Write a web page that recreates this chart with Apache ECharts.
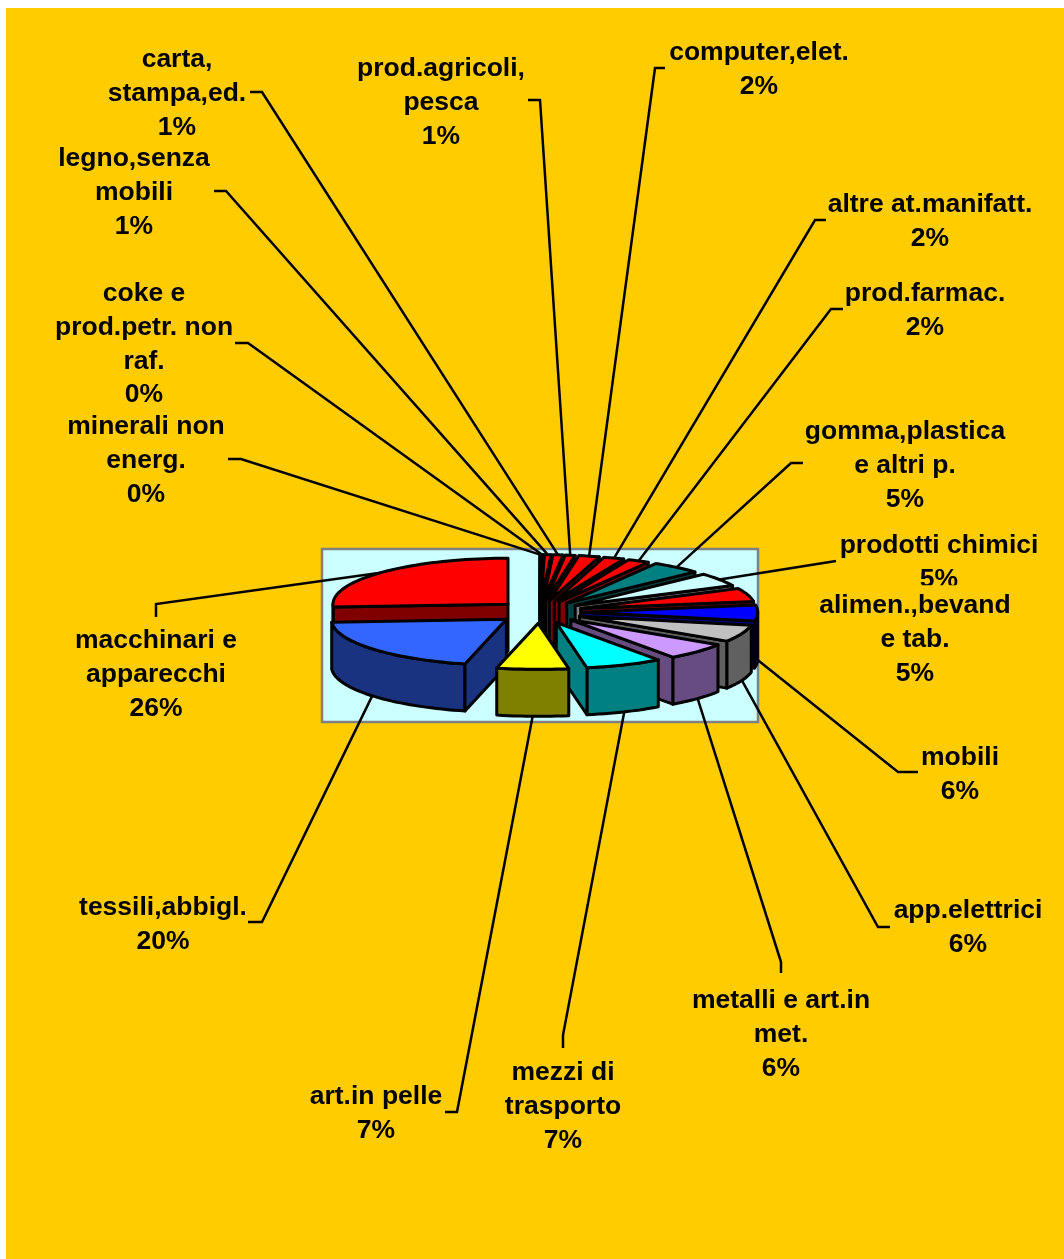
<!DOCTYPE html>
<html><head><meta charset="utf-8">
<style>html,body{margin:0;padding:0;background:#fff}#c{width:1064px;height:1259px}</style>
<script src="https://cdn.jsdelivr.net/npm/echarts@6/dist/echarts.min.js"></script>
</head><body><div id="c"></div>
<script>
const categories = ['minerali non\nenerg.','coke e\nprod.petr. non\nraf.','legno,senza\nmobili','carta,\nstampa,ed.','prod.agricoli,\npesca','computer,elet.','altre at.manifatt.','prod.farmac.','gomma,plastica\ne altri p.','prodotti chimici','alimen.,bevand\ne tab.','mobili','app.elettrici','metalli e art.in\nmet.','mezzi di\ntrasporto','art.in pelle','tessili,abbigl.','macchinari e\napparecchi'];
const values = [0.1,0.2,0.6,0.9,0.9,1.9,1.9,2.0,4.6,4.7,4.7,5.6,6.0,6.0,7.1,6.6,20.2,26.0];
const topColors = ['#FF0000','#FF0000','#FF0000','#FF0000','#FF0000','#FF0000','#FF0000','#FF0000','#008080','#CCFFFF','#FF0000','#0000FF','#C0C0C0','#CC99FF','#00FFFF','#FFFF00','#3366FF','#FF0000'];
const sideColors = ['#800000','#800000','#800000','#800000','#800000','#800000','#800000','#800000','#004040','#808080','#800000','#000080','#606060','#664C80','#008080','#808000','#193380','#800000'];
// layout
const labelCenters = [[146,427],[144,294],[134,159],[177,60],[441,69],[759,53],[930,205],[925,294],[905,432],[939,546],[915,606],[960,758],[968,911],[781,1001],[563,1073],[376,1097],[163,908],[156,641]];
const stubs = [[[228,459],[241,459]],[[235,343],[248,343]],[[214,191],[226,191]],[[250,92],[262,92]],[[528,100],[540,100]],[[665,68],[655,68]],[[826,220],[815,220]],[[843,309],[831,309]],[[803,463],[791,463]],[[836,561]],null,[[918,772],[898,772]],[[890,927],[878,927]],[[781,973],[781,962]],[[563,1048],[563,1035]],[[445,1112],[457,1112]],[[248,922],[262,922]],[[156,617],[156,604]]];
const PIE = {cx:539.5, cy:612, a:175, b:46, depth:47, explode:0.247};
const FONT = 'bold 26.5px "Liberation Sans", Arial, sans-serif';
const LINE = 33.6;

const total = values.reduce((s,v)=>s+v,0);
let acc = 0;
const slices = values.map((v,i)=>{const s=acc/total*360; acc+=v; const e=acc/total*360; return {i,v,s,e,m:(s+e)/2};});
const rad = d=>d*Math.PI/180;
const px = (deg,r,ox,oy,z)=>[ox+Math.sin(rad(deg))*PIE.a*r, oy-Math.cos(rad(deg))*PIE.b*r+(z||0)];
const order = slices.slice().sort((p,q)=>Math.cos(rad(q.m))-Math.cos(rad(p.m)));

function arc(s,e,ox,oy,z){const n=Math.max(2,Math.ceil((e-s)/2));const out=[];for(let k=0;k<=n;k++)out.push(px(s+(e-s)*k/n,1,ox,oy,z));return out;}
function renderSlice(params,api){
  const s=api.value(1), e=api.value(2), idx=api.value(3), m=(s+e)/2;
  const ox=PIE.cx+Math.sin(rad(m))*PIE.a*PIE.explode, oy=PIE.cy-Math.cos(rad(m))*PIE.b*PIE.explode;
  const d=PIE.depth, st={stroke:'#000',lineWidth:3,lineJoin:'round'};
  const side=sideColors[idx];
  const A=[ox,oy],Ad=[ox,oy+d];
  const poly=(pts,fill)=>({type:'polygon',shape:{points:pts},style:Object.assign({fill},st)});
  const children=[];
  const fs=Math.max(s,90), fe=Math.min(e,270);
  if(fe>fs){children.push(poly(arc(fs,fe,ox,oy,0).concat(arc(fs,fe,ox,oy,d).reverse()),side));}
  if(Math.sin(rad(s))<0){const p=px(s,1,ox,oy,0),q=px(s,1,ox,oy,d);children.push(poly([A,Ad,q,p],side));}
  if(Math.sin(rad(e))>0){const p=px(e,1,ox,oy,0),q=px(e,1,ox,oy,d);children.push(poly([A,Ad,q,p],side));}
  children.push(poly([A].concat(arc(s,e,ox,oy,0)),topColors[idx]));
  return {type:'group',children};
}
function renderLeader(params,api){
  const idx=api.value(1), m=api.value(2), st=stubs[idx];
  if(!st) return null;
  const r=1+PIE.explode;
  const end=px(m,r,PIE.cx,PIE.cy,Math.cos(rad(m))<0?PIE.depth:0);
  return {type:'polyline',shape:{points:st.concat([end])},style:{stroke:'#000',lineWidth:2.5,fill:null}};
}
function renderLabel(params,api){
  const idx=api.value(1), c=labelCenters[idx];
  const txt=categories[idx]+'\n'+Math.round(values[idx]/total*100)+'%';
  const style={text:txt,x:c[0],y:c[1]-LINE/2,align:'center',verticalAlign:'top',font:FONT,fill:'#000',lineHeight:LINE};
  if(idx===10){style.backgroundColor='#FFCC00';style.padding=[4,0,0,0];style.y-=4;}
  return {type:'text',z2:idx===10?10:1,style};
}
const chart=echarts.init(document.getElementById('c'),null,{renderer:'canvas'});
chart.setOption({
  animation:false,backgroundColor:'#fff',
  graphic:[
    {type:'rect',z:-20,silent:true,shape:{x:6,y:8,width:1058,height:1251},style:{fill:'#FFCC00'}},
    {type:'rect',z:-10,silent:true,shape:{x:322,y:549,width:436,height:173},style:{fill:'#CCFFFF',stroke:'#808080',lineWidth:2.5}}
  ],
  series:[
    {type:'custom',name:'leaders',coordinateSystem:'none',z:3,silent:true,clip:false,renderItem:renderLeader,data:slices.map(o=>[o.v,o.i,o.m])},
    {type:'custom',name:'slices',coordinateSystem:'none',z:4,silent:true,clip:false,renderItem:renderSlice,data:order.map(o=>[o.v,o.s,o.e,o.i])},
    {type:'custom',name:'labels',coordinateSystem:'none',z:5,silent:true,clip:false,renderItem:renderLabel,data:slices.map(o=>[o.v,o.i])}
  ]
});
</script></body></html>
